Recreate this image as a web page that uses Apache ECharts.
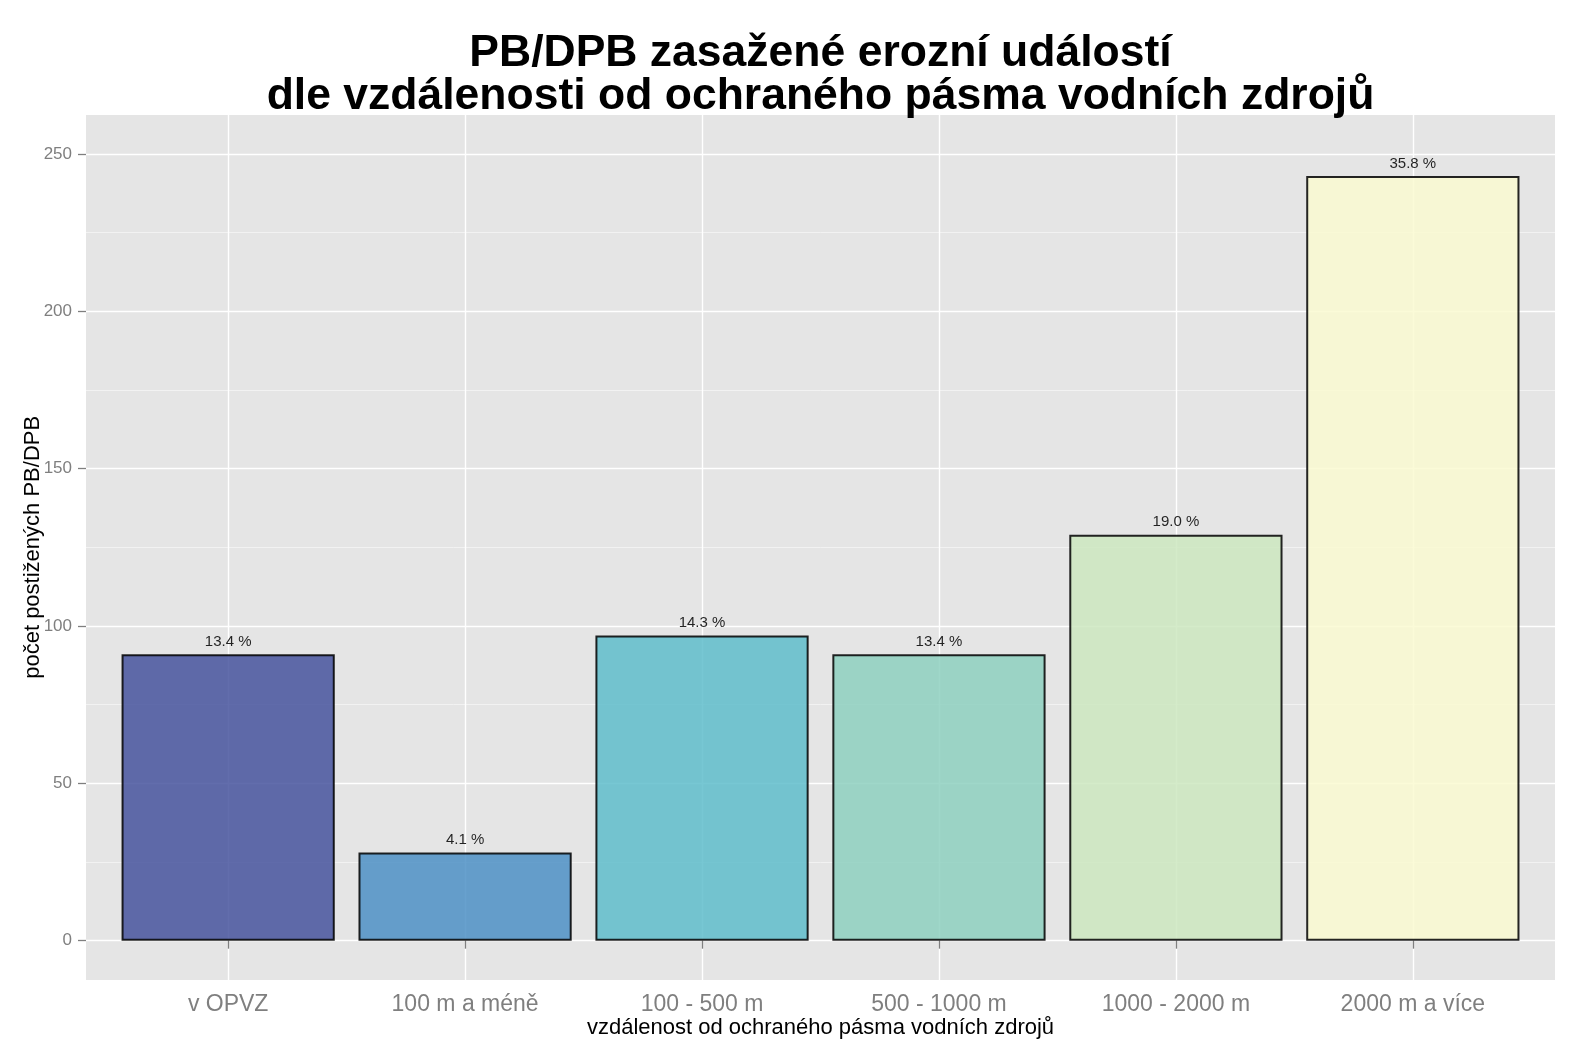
<!DOCTYPE html>
<html>
<head>
<meta charset="utf-8">
<script src="https://cdn.jsdelivr.net/npm/echarts@6/dist/echarts.min.js"></script>
<style>
html,body{margin:0;padding:0;background:#fff;}
#chart{width:1582px;height:1054px;}
</style>
</head>
<body>
<div id="chart"></div>
<script>
var categories = ['v OPVZ', '100 m a méně', '100 - 500 m', '500 - 1000 m', '1000 - 2000 m', '2000 m a více'];
var counts = [91, 28, 97, 91, 129, 243];
var percentLabels = ['13.4 %', '4.1 %', '14.3 %', '13.4 %', '19.0 %', '35.8 %'];
var yTicks = [0, 50, 100, 150, 200, 250];
var barColors = ['#46539E', '#4E91C5', '#5FBDCB', '#8ED0C0', '#CDE8C0', '#FAFAD1'];

var FONT = 'Liberation Sans, Arial, sans-serif';
var panel = {left: 86, top: 115, width: 1469, height: 865};
var yMin = -12.5, yMax = 262.4;
var ppu = panel.height / (yMax - yMin);
var tickMin = yTicks[0], tickMax = yTicks[yTicks.length - 1];
var tickTop = panel.top + (yMax - tickMax) * ppu;
var tickHeight = (tickMax - tickMin) * ppu;
// ggplot discrete expansion: 0.6 of a band on each side
var band = panel.width / (categories.length + 0.2);
var barGridLeft = panel.left + 0.1 * band;
var barGridWidth = band * categories.length;

var chart = echarts.init(document.getElementById('chart'), null, {renderer: 'canvas'});
chart.setOption({
  backgroundColor: '#ffffff',
  animation: false,
  title: {
    text: 'PB/DPB zasažené erozní událostí\ndle vzdálenosti od ochraného pásma vodních zdrojů',
    left: panel.left + panel.width / 2,
    textAlign: 'center',
    top: 32,
    padding: 0,
    textStyle: {fontFamily: FONT, fontSize: 44.5, fontWeight: 'bold', color: '#000', lineHeight: 43}
  },
  grid: [
    {left: panel.left, top: panel.top, width: panel.width, height: panel.height, show: true,
     backgroundColor: '#E5E5E5', borderWidth: 0, z: -1},
    {left: panel.left, top: tickTop, width: panel.width, height: tickHeight},
    {left: barGridLeft, top: panel.top, width: barGridWidth, height: panel.height}
  ],
  xAxis: [
    {gridIndex: 0, type: 'category', data: categories, show: false},
    {gridIndex: 1, type: 'category', data: categories, show: false},
    {gridIndex: 2, type: 'category', data: categories,
     axisLine: {show: false},
     axisTick: {show: true, alignWithLabel: true, length: 8, lineStyle: {color: '#7F7F7F', width: 1.3}},
     axisLabel: {fontFamily: FONT, fontSize: 23, color: '#7F7F7F', margin: 13, interval: 0},
     splitLine: {show: true, alignWithLabel: true, lineStyle: {color: '#FFFFFF', width: 1.4}},
     name: 'vzdálenost od ochraného pásma vodních zdrojů',
     nameLocation: 'middle', nameGap: 37, nameMoveOverlap: false,
     nameTextStyle: {fontFamily: FONT, fontSize: 22, color: '#000'}
    }
  ],
  yAxis: [
    {gridIndex: 0, type: 'value', show: false, min: yMin, max: yMax},
    {gridIndex: 1, type: 'value', min: tickMin, max: tickMax, interval: 50,
     axisLine: {show: false},
     axisTick: {show: true, length: 8, lineStyle: {color: '#7F7F7F', width: 1.3}},
     axisLabel: {fontFamily: FONT, fontSize: 17, color: '#7F7F7F', margin: 14},
     splitLine: {show: true, lineStyle: {color: '#FFFFFF', width: 1.4}},
     minorTick: {show: false, splitNumber: 2},
     minorSplitLine: {show: true, lineStyle: {color: '#F2F2F2', width: 1}},
     name: 'počet postižených PB/DPB',
     nameLocation: 'middle', nameGap: 42, nameMoveOverlap: false,
     nameTextStyle: {fontFamily: FONT, fontSize: 22, color: '#000'}
    },
    {gridIndex: 2, type: 'value', show: false, min: yMin, max: yMax}
  ],
  series: [{
    type: 'bar',
    xAxisIndex: 2, yAxisIndex: 2,
    barWidth: '90%',
    data: counts.map(function (v, i) {
      return {value: v, itemStyle: {color: barColors[i]}};
    }),
    itemStyle: {borderColor: '#000', borderWidth: 2, opacity: 0.85},
    label: {
      show: true, position: 'top', distance: 5,
      fontFamily: FONT, fontSize: 15, color: '#000',
      formatter: function (p) { return percentLabels[p.dataIndex]; }
    }
  }]
});
</script>
</body>
</html>
